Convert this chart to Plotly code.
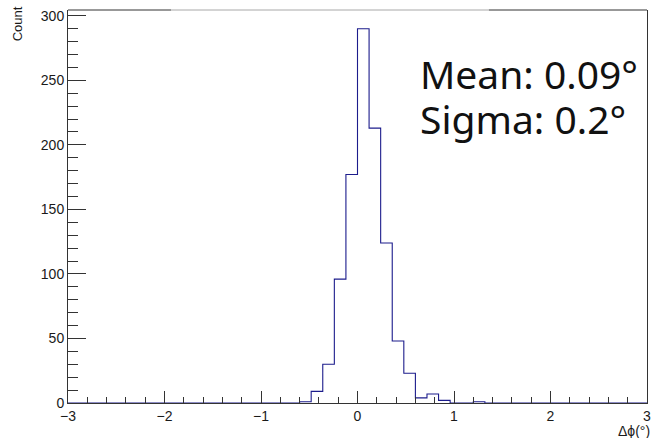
import plotly.graph_objects as go

# Histogram: 50 bins from -3 to 3 (width 0.12)
bin_start = -3.0
bin_width = 0.12
n_bins = 50
counts = [0] * 20 + [1, 9, 30, 96, 177, 290, 213, 124, 48, 23, 4, 7, 2, 0, 0, 1] + [0] * 14

edges = [bin_start + bin_width * i for i in range(n_bins + 1)]
x_step = edges
y_step = counts + [counts[-1]]

x_ticks = [-3, -2, -1, 0, 1, 2, 3]
y_ticks = [0, 50, 100, 150, 200, 250, 300]
stats_lines = ["Mean: 0.09°", "Sigma: 0.2°"]
x_title = "Δϕ(°)"
y_title = "Count"

W, H = 659, 438
L, R, T, B = 68, 8, 10, 35

fig = go.Figure()
fig.add_trace(go.Scatter(
    x=x_step, y=y_step, mode="lines", line=dict(shape="hv", color="#1c1c8c", width=1.1),
    hoverinfo="skip", showlegend=False))

tick_font = dict(family="Liberation Sans, Arial, sans-serif", size=14, color="#1a1a1a")
fig.update_layout(
    width=W, height=H,
    margin=dict(l=L, r=R, t=T, b=B, pad=0),
    paper_bgcolor="white", plot_bgcolor="white",
    xaxis=dict(range=[-3, 3], tickvals=x_ticks, ticks="inside", ticklen=12, tickwidth=1,
               tickcolor="#333", showgrid=False, zeroline=False, showline=True,
               linecolor="#333", linewidth=1.2, tickfont=tick_font, layer="above traces",
               minor=dict(dtick=0.2, ticks="inside", ticklen=6, tickcolor="#333", tickwidth=1, showgrid=False)),
    yaxis=dict(range=[0, 304.5], tickvals=y_ticks, ticks="inside", ticklen=18, tickwidth=1,
               tickcolor="#333", showgrid=False, zeroline=False, showline=True, mirror=True,
               linecolor="#333", linewidth=1, tickfont=tick_font, layer="above traces",
               minor=dict(dtick=10, ticks="inside", ticklen=10, tickcolor="#333", tickwidth=1, showgrid=False)),
)

# top frame line (dark ends, lighter middle as in reference)
fig.add_shape(type="line", xref="paper", yref="paper", x0=0, x1=0.178, y0=1, y1=1,
              line=dict(color="#333", width=1))
fig.add_shape(type="line", xref="paper", yref="paper", x0=0.178, x1=0.727, y0=1, y1=1,
              line=dict(color="#a8a8a8", width=1))
fig.add_shape(type="line", xref="paper", yref="paper", x0=0.727, x1=1, y0=1, y1=1,
              line=dict(color="#333", width=1))

pw = W - L - R
ph = H - T - B

def px_x(p):
    return (p - L) / pw

def px_y(p):
    return (H - B - p) / ph

stat_font = dict(family="Noto Sans, Open Sans, sans-serif", size=39, color="#111")
fig.add_annotation(text=stats_lines[0], xref="paper", yref="paper", x=px_x(420), y=px_y(73),
                   xanchor="left", yanchor="middle", showarrow=False, font=stat_font)
fig.add_annotation(text=stats_lines[1], xref="paper", yref="paper", x=px_x(420), y=px_y(119),
                   xanchor="left", yanchor="middle", showarrow=False, font=stat_font)

fig.add_annotation(text=x_title, xref="paper", yref="paper", x=px_x(656), y=px_y(431),
                   xanchor="right", yanchor="middle", showarrow=False,
                   font=dict(family="Liberation Sans, Arial, sans-serif", size=14, color="#1a1a1a"))
fig.add_annotation(text=y_title, xref="paper", yref="paper", x=px_x(18), y=px_y(24),
                   xanchor="center", yanchor="middle", textangle=-90, showarrow=False,
                   font=dict(family="Liberation Sans, Arial, sans-serif", size=13, color="#1a1a1a"))

fig.write_html("out.html")
